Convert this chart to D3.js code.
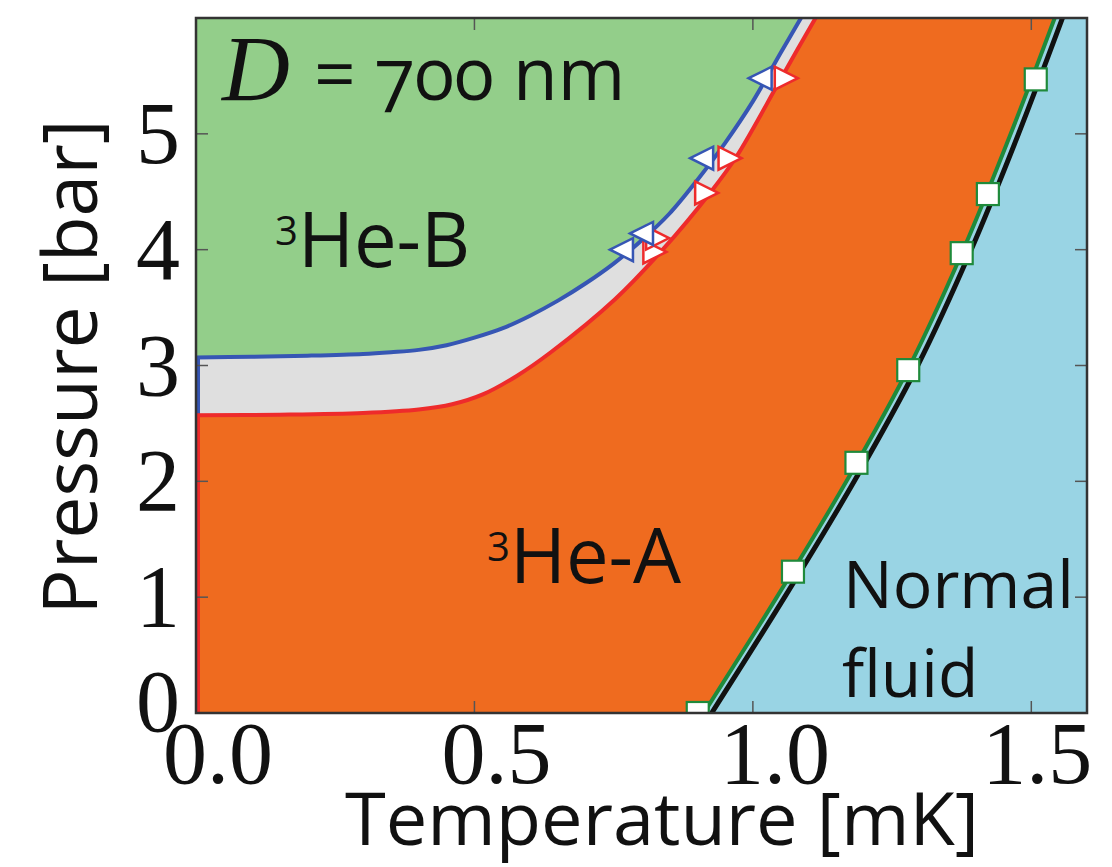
<!DOCTYPE html>
<html><head><meta charset="utf-8">
<script src="https://cdn.jsdelivr.net/npm/d3@7"></script>
<style>body{margin:0;background:#fff}</style>
</head><body>
<svg id="chart" width="1112" height="867"></svg>
<script>
// ---- data ----
const xTicks = [0, 0.5, 1.0, 1.5];
const xTickLabels = ["0.0", "0.5", "1.0", "1.5"];
const yTicks = [0, 1, 2, 3, 4, 5];
const yTickLabels = ["0", "1", "2", "3", "4", "5"];

// B-phase boundary (blue) : temperature [mK], pressure [bar]
const blueT = [0, 0.1, 0.2, 0.3, 0.35, 0.4, 0.45, 0.5, 0.55, 0.6, 0.65, 0.7, 0.75, 0.8, 0.85, 0.9, 0.95, 1.0, 1.05, 1.09];
const blueP = [3.07, 3.075, 3.085, 3.10, 3.115, 3.135, 3.175, 3.24, 3.32, 3.43, 3.56, 3.71, 3.88, 4.08, 4.31, 4.60, 4.92, 5.28, 5.70, 6.03];
// A-phase boundary (red)
const redT = [0, 0.15, 0.3, 0.4, 0.46, 0.515, 0.576, 0.636, 0.752, 0.838, 0.923, 0.97, 1.045, 1.079, 1.115];
const redP = [2.57, 2.575, 2.59, 2.62, 2.665, 2.75, 2.91, 3.11, 3.57, 4.00, 4.49, 4.80, 5.43, 5.72, 6.02];
// Tc lines
const tcP = [0, 1, 2, 3, 4, 5, 6];
const greenT = [0.912, 1.043, 1.168, 1.282, 1.378, 1.463, 1.542];
const blackT = [0.926, 1.057, 1.182, 1.296, 1.392, 1.477, 1.556];
// measured points
const blueMarkT = [0.764, 0.800, 0.908, 1.013];
const blueMarkP = [4.00, 4.14, 4.79, 5.48];
const redMarkT = [0.824, 0.829, 0.917, 0.959, 1.060];
const redMarkP = [3.98, 4.10, 4.49, 4.79, 5.48];
const sqT = [0.901, 1.072, 1.186, 1.279, 1.375, 1.422, 1.508];
const sqP = [0, 1.22, 2.16, 2.96, 3.97, 4.48, 5.47];

// ---- layout ----
const L = 196, R = 1087, T = 18, B = 713;
const x = d3.scaleLinear().domain([0, 1.6]).range([L, R]);
const y = d3.scaleLinear().domain([0, 6]).range([B, T]);

const svg = d3.select("#chart");
svg.append("defs").append("clipPath").attr("id", "clip")
  .append("rect").attr("x", L).attr("y", T).attr("width", R - L).attr("height", B - T);
const g = svg.append("g").attr("clip-path", "url(#clip)");

const C = {green: "#93ce8a", gray: "#dfdfdf", orange: "#ef6b1f", lblue: "#99d4e4",
           blue: "#3656b4", red: "#ee2b2b", dgreen: "#1f8a3b"};

const bluePts = blueT.map((t, i) => [t, blueP[i]]);
const redPts = redT.map((t, i) => [t, redP[i]]);
const greenPts = tcP.map((p, i) => [greenT[i], p]);
const blackPts = tcP.map((p, i) => [blackT[i], p]);

const lineX = d3.line().x(d => x(d[0])).y(d => y(d[1])).curve(d3.curveCatmullRom.alpha(0.5));
const lineY = d3.line().x(d => x(d[0])).y(d => y(d[1])).curve(d3.curveMonotoneY);

// fills
g.append("rect").attr("x", L).attr("y", T).attr("width", R - L).attr("height", B - T).attr("fill", C.green);
function regionBelow(pts, fill) {
  const d = lineX(pts) + `L${x(1.7)},${y(6.2)}L${x(1.7)},${y(-0.2)}L${x(0)},${y(-0.2)}Z`;
  g.append("path").attr("d", d).attr("fill", fill);
}
regionBelow(bluePts, C.gray);
regionBelow(redPts, C.orange);
g.append("path")
  .attr("d", lineY(greenPts) + `L${x(1.7)},${y(6.2)}L${x(1.7)},${y(-0.2)}Z`)
  .attr("fill", C.lblue);

// lines
g.append("line").attr("x1", x(0)).attr("x2", x(0)).attr("y1", y(blueP[0])).attr("y2", y(redP[0]))
  .attr("stroke", C.blue).attr("stroke-width", 8);
g.append("line").attr("x1", x(0)).attr("x2", x(0)).attr("y1", y(redP[0])).attr("y2", y(0))
  .attr("stroke", C.red).attr("stroke-width", 8);
g.append("path").attr("d", lineX(redPts)).attr("fill", "none").attr("stroke", C.red).attr("stroke-width", 4);
g.append("path").attr("d", lineX(bluePts)).attr("fill", "none").attr("stroke", C.blue).attr("stroke-width", 4);
g.append("path").attr("d", lineY(blackPts)).attr("fill", "none").attr("stroke", "#111").attr("stroke-width", 5);
g.append("path").attr("d", lineY(greenPts)).attr("fill", "none").attr("stroke", C.dgreen).attr("stroke-width", 4);

// markers
const s = 11.5;
g.selectAll(".rm").data(redMarkT.map((t, i) => [t, redMarkP[i]])).join("path")
  .attr("transform", d => `translate(${x(d[0])},${y(d[1])})`)
  .attr("d", `M${s},0L${-s},${-s}L${-s},${s}Z`)
  .attr("fill", "#fff").attr("stroke", C.red).attr("stroke-width", 2.5);
g.selectAll(".bm").data(blueMarkT.map((t, i) => [t, blueMarkP[i]])).join("path")
  .attr("transform", d => `translate(${x(d[0])},${y(d[1])})`)
  .attr("d", `M${-s},0L${s},${-s}L${s},${s}Z`)
  .attr("fill", "#fff").attr("stroke", C.blue).attr("stroke-width", 2.5);
g.selectAll(".sq").data(sqT.map((t, i) => [t, sqP[i]])).join("rect")
  .attr("x", d => x(d[0]) - 11).attr("y", d => y(d[1]) - 11)
  .attr("width", 22).attr("height", 22)
  .attr("fill", "#fff").attr("stroke", C.dgreen).attr("stroke-width", 2.2);

// ticks (inward, all four sides)
const tk = 12, tcol = "#555";
xTicks.forEach(v => {
  svg.append("line").attr("x1", x(v)).attr("x2", x(v)).attr("y1", B).attr("y2", B - tk).attr("stroke", tcol).attr("stroke-width", 1.5);
  svg.append("line").attr("x1", x(v)).attr("x2", x(v)).attr("y1", T).attr("y2", T + tk).attr("stroke", tcol).attr("stroke-width", 1.5);
});
yTicks.forEach(v => {
  svg.append("line").attr("x1", L).attr("x2", L + tk).attr("y1", y(v)).attr("y2", y(v)).attr("stroke", tcol).attr("stroke-width", 1.5);
  svg.append("line").attr("x1", R).attr("x2", R - tk).attr("y1", y(v)).attr("y2", y(v)).attr("stroke", tcol).attr("stroke-width", 1.5);
});
// frame
svg.append("rect").attr("x", L).attr("y", T).attr("width", R - L).attr("height", B - T)
  .attr("fill", "none").attr("stroke", "#333").attr("stroke-width", 2.5);

// tick labels
const serif = "'Liberation Serif', 'DejaVu Serif', serif";
const sans = "'Open Sans', 'Noto Sans', sans-serif";
const xLabelShift = [22, 22, 22, 6];
svg.selectAll(".xl").data(xTicks).join("text")
  .attr("x", (d, i) => x(d) + xLabelShift[i]).attr("y", 783)
  .attr("text-anchor", "middle").attr("font-family", serif).attr("font-size", 88).attr("fill", "#111")
  .text((d, i) => xTickLabels[i]);
svg.selectAll(".yl").data(yTicks).join("text")
  .attr("x", 180).attr("y", d => y(d) + (d === 0 ? 18 : 29))
  .attr("text-anchor", "end").attr("font-family", serif).attr("font-size", 88).attr("fill", "#111")
  .text((d, i) => yTickLabels[i]);

// axis titles
svg.append("text").attr("x", 345).attr("y", 845).attr("font-family", sans).attr("font-size", 74)
  .attr("fill", "#111").text("Temperature [mK]");
svg.append("text").attr("transform", "translate(97,367) rotate(-90)").attr("text-anchor", "middle")
  .attr("font-family", sans).attr("font-size", 75).attr("fill", "#111").text("Pressure [bar]");

// annotations
svg.append("text").attr("x", 222).attr("y", 100).attr("font-family", serif).attr("font-style", "italic")
  .attr("font-size", 94).attr("fill", "#111").text("D");
svg.append("text").attr("x", 314).attr("y", 100).attr("font-family", sans).attr("font-size", 73)
  .attr("fill", "#111").style("font-variant-numeric", "oldstyle-nums").text("= 700 nm");

function phase(xp, yb, letter) {
  const t = svg.append("text").attr("x", xp).attr("y", yb).attr("font-family", sans).attr("fill", "#111");
  t.append("tspan").attr("font-size", 40).attr("dy", -22).text("3");
  t.append("tspan").attr("font-size", 76).attr("dy", 22).text("He-" + letter);
}
phase(275, 267, "B");
phase(487, 583, "A");
svg.append("text").attr("x", 843).attr("y", 608).attr("font-family", sans).attr("font-size", 66)
  .attr("fill", "#111").text("Normal");
svg.append("text").attr("x", 842).attr("y", 697).attr("font-family", sans).attr("font-size", 66)
  .attr("fill", "#111").text("fluid");
</script>
</body></html>
